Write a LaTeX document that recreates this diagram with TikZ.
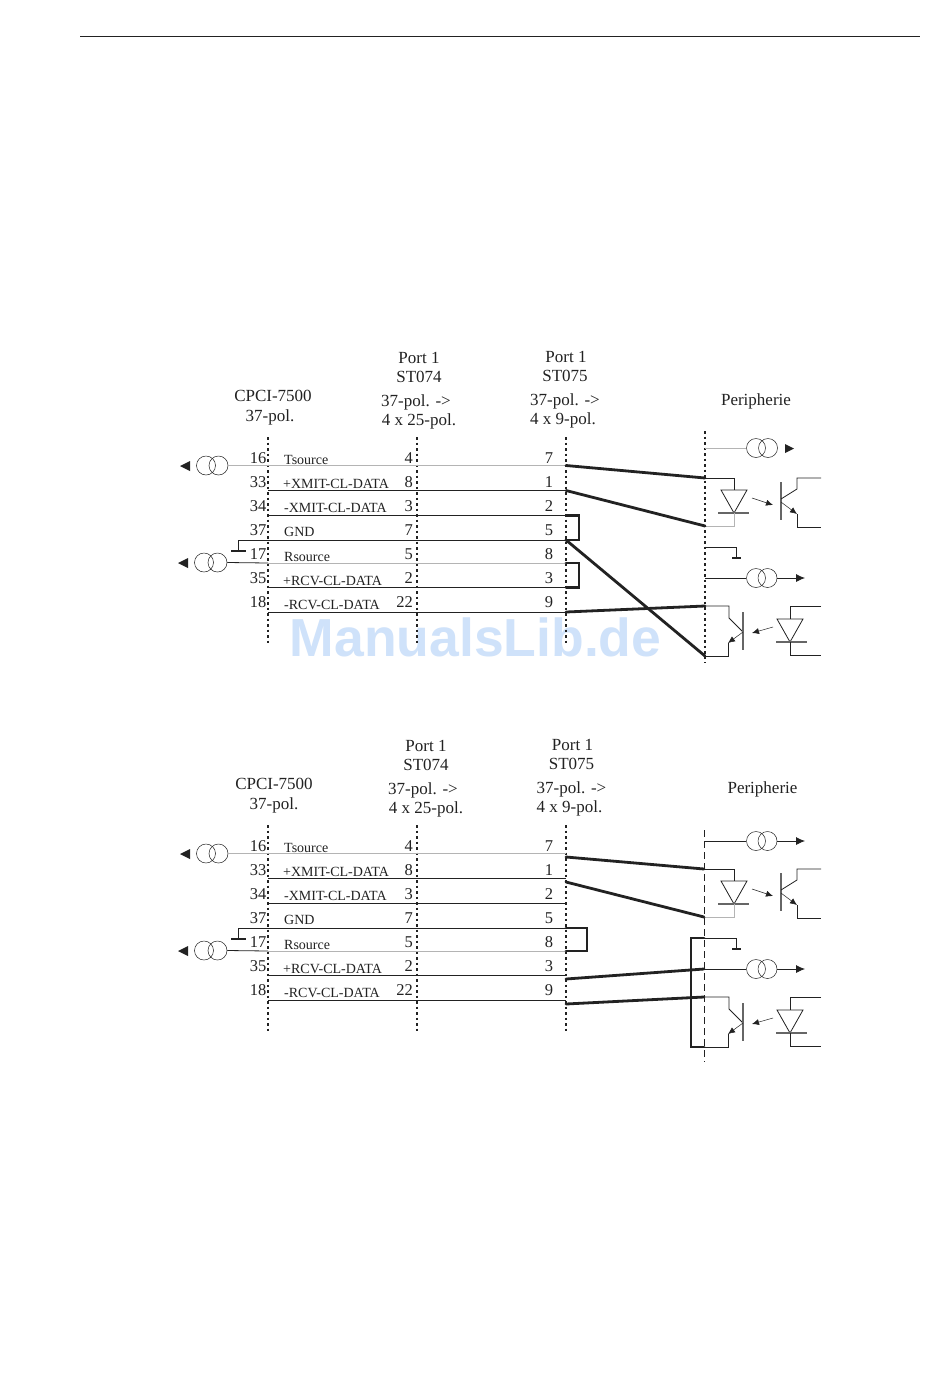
\documentclass[tikz,border=0pt]{standalone}
\usepackage{fontspec}
\usepackage{tikz}
\usepackage{xcolor}
\usetikzlibrary{arrows.meta}
\setmainfont{Liberation Serif}
\newfontfamily\markfont{Liberation Sans}

\definecolor{ink}{HTML}{222222}
\definecolor{faint}{HTML}{B4B4B4}
\definecolor{barcol}{HTML}{666666}
\definecolor{markcol}{HTML}{CFE2FA}

\tikzset{
  headtext/.style={font=\fontsize{17}{20}\selectfont,text=ink,anchor=base,inner sep=0pt},
  pintext/.style={font=\fontsize{16.5}{18}\selectfont,text=ink,anchor=base,inner sep=0pt},
  sigtext/.style={font=\fontsize{14}{15}\selectfont,text=ink,anchor=base west,inner sep=0pt},
  dotline/.style={ink,line width=1.2pt,dash pattern=on 2.5pt off 3pt},
  dashline/.style={ink,line width=1pt,dash pattern=on 7pt off 4pt},
  blackwire/.style={ink,line width=1pt},
  faintwire/.style={faint,line width=1pt},
  heavywire/.style={ink,line width=2.8pt,line cap=round,line join=miter},
  symline/.style={ink,line width=0.8pt},
  barline/.style={barcol,line width=1.8pt},
  srcring/.style={draw=ink,line width=0.5pt,circle,minimum size=19pt,inner sep=0pt},
  signtip/.style={-{Latex[length=9pt,width=8pt]},ink,line width=0.8pt},
  smalltip/.style={-{Latex[length=7pt,width=6pt]},ink,line width=0.5pt},
}

\begin{document}
\begin{tikzpicture}[x=1pt,y=-1pt]
\useasboundingbox (0,0) rectangle (950,1379);
\fill[white] (0,0) rectangle (950,1379);

% page rule
\coordinate (ruleL) at (80,36);
\coordinate (ruleR) at (920,36);
\draw[ink,line width=0.8pt] (ruleL) -- (ruleR);

% watermark goes below the wires
\node[font=\markfont\bfseries\fontsize{53.5}{60}\selectfont,text=markcol,inner sep=0pt,anchor=base] (watermark) at (475.5,656) {ManualsLib.de};

% headers, second panel sits 388 lower and a little to the right
\foreach \panel/\dy/\dc/\dd/\dp/\dq in {a/0/0/0/0/0, b/388/1/4/7/6.5} {
  \begin{scope}[shift={(0,\dy)}]
    \node[headtext] (\panel cpci) at (273+\dc,401.5) {CPCI-7500};
    \node[headtext] (\panel cpin) at (270+\dd,421) {37-pol.};
    \node[headtext] (\panel porta) at (419+\dp,363) {Port 1};
    \node[headtext] (\panel sta) at (419+\dp,382) {ST074};
    \node[headtext] (\panel pola) at (416+\dp,406) {37-pol. ->};
    \node[headtext] (\panel wida) at (419+\dp,425) {4 x 25-pol.};
    \node[headtext] (\panel portb) at (566+\dq,362) {Port 1};
    \node[headtext] (\panel stb) at (565+\dq,381) {ST075};
    \node[headtext] (\panel polb) at (565+\dq,405.5) {37-pol. ->};
    \node[headtext] (\panel widb) at (563+\dq,424.5) {4 x 9-pol.};
    \node[headtext] (\panel peri) at (756+\dq,405) {Peripherie};

    % dotted connector lines
    \coordinate (\panel Xa) at (268,437);
    \coordinate (\panel Xb) at (268,643);
    \coordinate (\panel Ya) at (417,437);
    \coordinate (\panel Yb) at (417,643);
    \coordinate (\panel Za) at (566,437);
    \coordinate (\panel Zb) at (566,643);
    \draw[dotline] (\panel Xa) -- (\panel Xb);
    \draw[dotline] (\panel Ya) -- (\panel Yb);
    \draw[dotline] (\panel Za) -- (\panel Zb);

    % rows: wire y, pin, port 1, port 2
    \foreach \i/\wy/\wstyle/\pin/\pa/\pb in {1/465.5/faintwire/16/4/7, 2/490.5/blackwire/33/8/1,
        3/515.5/blackwire/34/3/2, 4/540/blackwire/37/7/5, 5/563/faintwire/17/5/8,
        6/587.5/blackwire/35/2/3, 7/612/blackwire/18/22/9} {
      \coordinate (\panel L\i) at (268,\wy);
      \coordinate (\panel R\i) at (566,\wy);
      \draw[\wstyle] (\panel L\i) -- (\panel R\i);
      \node[pintext] (\panel pin\i) at (258,463+24*\i-24) {\pin};
      \node[pintext,anchor=base east] (\panel pa\i) at (413,463+24*\i-24) {\pa};
      \node[pintext] (\panel pb\i) at (549,463+24*\i-24) {\pb};
    }
    \node[sigtext] (\panel sigA) at (284,464.5) {Tsource};
    \node[sigtext] (\panel sigB) at (283,488) {+XMIT-CL-DATA};
    \node[sigtext] (\panel sigC) at (284,512) {-XMIT-CL-DATA};
    \node[sigtext] (\panel sigD) at (284,536.5) {GND};
    \node[sigtext] (\panel sigE) at (284,561) {Rsource};
    \node[sigtext] (\panel sigF) at (283,585) {+RCV-CL-DATA};
    \node[sigtext] (\panel sigG) at (284,609) {-RCV-CL-DATA};

    % left current sources and ground tick
    \node[srcring] (\panel ua) at (206,465.5) {};
    \node[srcring] (\panel ub) at (218.5,465.5) {};
    \draw[faintwire] (\panel ub.east) -- (\panel L1);
    \fill[ink] (190,461) -- (190,471) -- (180,466) -- cycle;
    \node[srcring] (\panel va) at (204,562.5) {};
    \node[srcring] (\panel vb) at (217.5,562.5) {};
    \draw[symline] (\panel vb.east) -- (\panel L5);
    \fill[ink] (188,558) -- (188,568) -- (178,563) -- cycle;
    \coordinate (\panel ga) at (231,551);
    \coordinate (\panel gb) at (246,551);
    \coordinate (\panel gc) at (238,551);
    \coordinate (\panel gd) at (238,540);
    \draw[ink,line width=1.4pt] (\panel ga) -- (\panel gb);
    \draw[symline] (\panel gc) -- (\panel gd) -- (\panel L4);
  \end{scope}
}

% periphery parts, the same in both panels
\foreach \panel/\dy/\px in {a/0/705, b/391/704} {
  \begin{scope}[shift={(0,\dy)}]
    \coordinate (\panel Pa) at (\px,478);
    \coordinate (\panel Pb) at (\px,526);
    \coordinate (\panel Pc) at (\px,547);
    \coordinate (\panel Pd) at (\px,578);
    \coordinate (\panel Pe) at (\px,606);
    \coordinate (\panel Pf) at (\px,656);

    % upper coupler
    \draw[symline] (\panel Pa) -- (734,478) -- (734,490);
    \draw[symline] (721,490) -- (747,490) -- (734,513) -- cycle;
    \draw[barline] (718,513) -- (749,513);
    \draw[faintwire] (734,513) -- (734,526) -- (\panel Pb);
    \draw[smalltip] (752,498) -- (773,505);
    \draw[barline] (781,482) -- (781,520);
    \draw[symline] (781,499) -- (797,489) -- (797,478) -- (821,478);
    \draw[smalltip] (781,502) -- (797,514);
    \draw[symline] (797,514) -- (797,527) -- (821,527);

    % ground
    \draw[symline] (\panel Pc) -- (736,547) -- (736,558);
    \draw[ink,line width=1.2pt] (732,558) -- (741,558);

    % receiver source
    \node[srcring] (\panel wa) at (756,578) {};
    \node[srcring] (\panel wb) at (767.5,578) {};
    \coordinate (\panel wc) at (805,578);
    \draw[symline] (\panel Pd) -- (\panel wa.west);
    \draw[signtip] (\panel wb.east) -- (\panel wc);

    % lower coupler
    \draw[symline] (\panel Pe) -- (729,606) -- (729,618) -- (743,632);
    \draw[barline] (743,612) -- (743,650);
    \draw[smalltip] (743,632) -- (728,643);
    \draw[symline] (728,643) -- (728,656) -- (\panel Pf);
    \draw[smalltip] (773,627) -- (752,633);
    \draw[symline] (821,606) -- (790,606) -- (790,619);
    \draw[symline] (777,619) -- (803,619) -- (790,642) -- cycle;
    \draw[barline] (776,642) -- (807,642);
    \draw[symline] (790,642) -- (790,655) -- (821,655);
  \end{scope}
}

% first panel: dotted periphery line and top source
\coordinate (aPx) at (705,431);
\coordinate (aPy) at (705,663);
\draw[dotline] (aPx) -- (aPy);
\coordinate (aPt) at (705,448);
\node[srcring] (ata) at (756,448) {};
\node[srcring] (atb) at (768,448) {};
\draw[faintwire] (aPt) -- (ata.west);
\fill[ink] (785,444) -- (785,453) -- (794,448.5) -- cycle;

% first panel: heavy links
\draw[heavywire] (aR1) -- (aPa);
\draw[heavywire] (aR2) -- (aPb);
\draw[heavywire] (aR3) -- ++(13,0) |- (aR4);
\draw[heavywire] (aR4) -- (aPf);
\draw[heavywire] (aR5) -- ++(13,0) |- (aR6);
\draw[heavywire] (aR7) -- (aPe);

% second panel: dashed periphery line and top source
\coordinate (bPx) at (704,830);
\coordinate (bPy) at (704,1062);
\draw[dashline] (bPx) -- (bPy);
\coordinate (bPt) at (704,841);
\node[srcring] (bta) at (756,841) {};
\node[srcring] (btb) at (767.5,841) {};
\coordinate (btc) at (805,841);
\draw[symline] (bPt) -- (bta.west);
\draw[signtip] (btb.east) -- (btc);

% second panel: heavy links
\coordinate (bS1) at (566,857);
\coordinate (bS2) at (566,882);
\coordinate (bS6) at (566,979);
\coordinate (bS7) at (566,1004);
\draw[heavywire] (bS1) -- (bPa);
\draw[heavywire] (bS2) -- (bPb);
\draw[heavywire] (bR4) -- ++(21,0) |- (bR5);
\draw[heavywire] (bS6) -- (bPd);
\draw[heavywire] (bS7) -- (bPe);
\draw[heavywire] (bPc) -- ++(-13,0) |- (bPf);

\end{tikzpicture}
\end{document}
